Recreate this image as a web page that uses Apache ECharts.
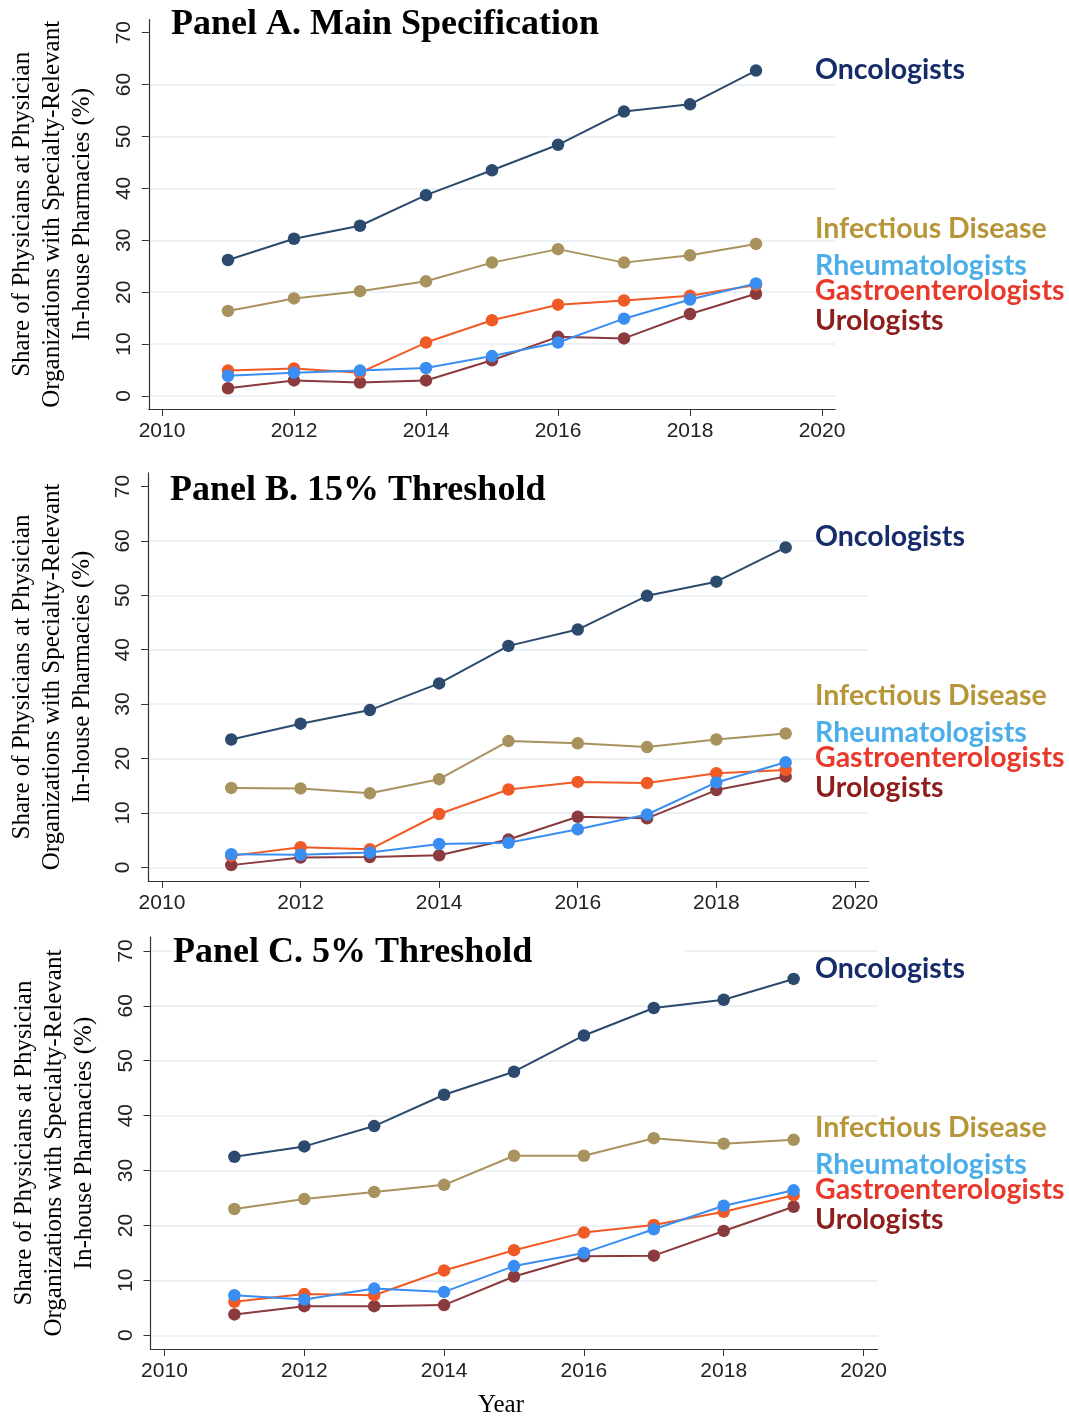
<!DOCTYPE html>
<html>
<head>
<meta charset="utf-8">
<script src="https://cdn.jsdelivr.net/npm/echarts@6/dist/echarts.min.js"></script>
<style>
html,body{margin:0;padding:0;background:#fff;}
#chart{width:1069px;height:1416px;}
</style>
</head>
<body>
<div id="chart"></div>
<script>
// ---------- data ----------
const years = [2011, 2012, 2013, 2014, 2015, 2016, 2017, 2018, 2019];
const xTicks = [2010, 2012, 2014, 2016, 2018, 2020];
const yTicks = [0, 10, 20, 30, 40, 50, 60, 70];
const specialties = ['Oncologists', 'Infectious Disease', 'Rheumatologists', 'Gastroenterologists', 'Urologists'];
const panelTitles = ['Panel A. Main Specification', 'Panel B. 15% Threshold', 'Panel C. 5% Threshold'];
const yAxisTitle = 'Share of Physicians at Physician\nOrganizations with Specialty-Relevant\nIn-house Pharmacies (%)';
const xAxisTitle = 'Year';

// Panel A
const oncA    = [26.2, 30.3, 32.8, 38.7, 43.5, 48.4, 54.8, 56.2, 62.7];
const infA    = [16.4, 18.8, 20.2, 22.1, 25.7, 28.3, 25.7, 27.1, 29.3];
const rheumA  = [3.9, 4.5, 4.9, 5.4, 7.7, 10.3, 14.9, 18.6, 21.7];
const gastroA = [4.9, 5.3, 4.5, 10.3, 14.6, 17.6, 18.4, 19.3, 21.4];
const uroA    = [1.5, 3.0, 2.6, 3.0, 6.9, 11.4, 11.1, 15.8, 19.7];
// Panel B
const oncB    = [23.5, 26.4, 28.9, 33.8, 40.7, 43.7, 49.9, 52.5, 58.8];
const infB    = [14.6, 14.5, 13.6, 16.2, 23.2, 22.8, 22.1, 23.5, 24.6];
const rheumB  = [2.4, 2.3, 2.7, 4.3, 4.5, 7.0, 9.7, 15.6, 19.3];
const gastroB = [2.1, 3.7, 3.3, 9.8, 14.3, 15.7, 15.5, 17.3, 17.9];
const uroB    = [0.4, 1.8, 1.9, 2.2, 5.1, 9.3, 9.0, 14.2, 16.7];
// Panel C
const oncC    = [32.5, 34.4, 38.1, 43.8, 48.0, 54.6, 59.6, 61.1, 64.9];
const infC    = [23.0, 24.8, 26.1, 27.4, 32.7, 32.7, 35.9, 34.9, 35.6];
const rheumC  = [7.3, 6.5, 8.5, 7.9, 12.6, 15.0, 19.3, 23.6, 26.4];
const gastroC = [6.1, 7.5, 7.3, 11.8, 15.5, 18.7, 20.1, 22.5, 25.5];
const uroC    = [3.8, 5.3, 5.3, 5.5, 10.7, 14.4, 14.5, 19.0, 23.4];

const panelData = [
  [oncA, infA, rheumA, gastroA, uroA],
  [oncB, infB, rheumB, gastroB, uroB],
  [oncC, infC, rheumC, gastroC, uroC]
];

// ---------- styles / layout ----------
const lineColors  = ['#2c4a6e', '#a8935e', '#3a8ef2', '#f05a26', '#8b3b3d'];
const labelColors = ['#162c6a', '#b7963a', '#4baee8', '#e8392a', '#8e1d1d'];
const drawOrder = [0, 1, 4, 3, 2];
const grids = [
  {left: 148.8, top: 19.7, width: 686.4, height: 389.3},
  {left: 148.1, top: 472.9, width: 720.7, height: 408.0},
  {left: 150.5, top: 937.2, width: 727.0, height: 411.8}
];
const titlePos = [{left: 171, top: 7}, {left: 170, top: 473}, {left: 173, top: 935}];
const labelY = [
  [70, 229, 266, 291, 321],
  [537, 696, 733, 758, 788],
  [969, 1128, 1165, 1190, 1220]
];
const labelX = 815;
const gridColor = '#e5edf0';
const axisColor = '#333';

const option = {
  backgroundColor: '#fff',
  animation: false,
  title: panelTitles.map((t, i) => ({
    text: t,
    left: titlePos[i].left,
    top: titlePos[i].top,
    padding: i === 2 ? [0, 152, 0, 0] : 0,
    backgroundColor: i === 2 ? '#fff' : 'transparent',
    textStyle: {fontFamily: 'Liberation Serif', fontWeight: 'bold', fontSize: 36, color: '#000'}
  })),
  grid: grids.map(g => Object.assign({containLabel: false, outerBoundsMode: 'none'}, g)),
  xAxis: grids.map((g, i) => ({
    type: 'value',
    gridIndex: i,
    min: 2009.8,
    max: 2020.2,
    name: i === 2 ? xAxisTitle : '',
    nameLocation: 'middle',
    nameGap: 44,
    nameTextStyle: {fontFamily: 'Liberation Serif', fontSize: 25, color: '#000', padding: [0, 26, 0, 0]},
    axisLine: {show: true, onZero: false, lineStyle: {color: axisColor, width: 1.2}},
    axisTick: {show: true, length: 7, customValues: xTicks, lineStyle: {color: axisColor}},
    axisLabel: {
      customValues: xTicks, margin: 12, fontFamily: 'Liberation Sans', fontSize: 21, color: '#222',
      formatter: v => String(Math.round(v))
    },
    splitLine: {show: false}
  })),
  yAxis: grids.map((g, i) => ({
    type: 'value',
    gridIndex: i,
    min: -2.5,
    max: 72.5,
    name: yAxisTitle,
    nameLocation: 'middle',
    nameRotate: 90,
    nameGap: 51,
    nameTextStyle: {fontFamily: 'Liberation Serif', fontSize: 25, lineHeight: 30, color: '#000', align: 'center'},
    axisLine: {show: true, onZero: false, lineStyle: {color: axisColor, width: 1.2}},
    axisTick: {show: true, length: 7, customValues: yTicks, lineStyle: {color: axisColor}},
    axisLabel: {
      customValues: yTicks, rotate: 90, margin: 14, fontFamily: 'Liberation Sans', fontSize: 21, color: '#222',
      formatter: v => String(Math.round(v))
    },
    splitLine: {
      show: true,
      lineStyle: {
        width: 1.5,
        color: yTicks.map((v, k) => (i < 2 && k === yTicks.length - 1) ? 'rgba(0,0,0,0)' : gridColor)
      }
    }
  })),
  series: [],
  graphic: []
};

panelData.forEach((vals, p) => {
  drawOrder.forEach(s => {
    option.series.push({
      type: 'line',
      name: specialties[s] + ' ' + p,
      xAxisIndex: p,
      yAxisIndex: p,
      data: years.map((y, k) => [y, vals[s][k]]),
      symbol: 'circle',
      symbolSize: 12.5,
      showSymbol: true,
      lineStyle: {color: lineColors[s], width: 2},
      itemStyle: {color: lineColors[s]},
      z: 3 + drawOrder.indexOf(s)
    });
  });
  specialties.forEach((name, s) => {
    option.graphic.push({
      type: 'text',
      x: labelX,
      y: labelY[p][s],
      z: 100,
      style: {
        text: name,
        fill: labelColors[s],
        font: 'bold 28.5px Lato',
        textVerticalAlign: 'middle'
      }
    });
  });
});

const chart = echarts.init(document.getElementById('chart'), null, {renderer: 'canvas'});
chart.setOption(option);
</script>
</body>
</html>
